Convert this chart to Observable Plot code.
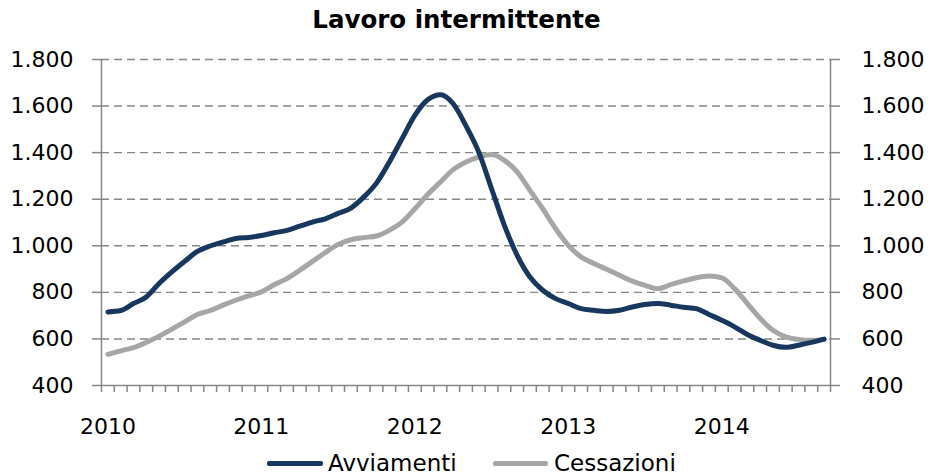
<!DOCTYPE html>
<html>
<head>
<meta charset="utf-8">
<script src="https://cdn.jsdelivr.net/npm/d3@7"></script>
<script src="https://cdn.jsdelivr.net/npm/@observablehq/plot@0.6"></script>
<style>
  body { margin: 0; background: #fff; }
  #wrap { position: relative; width: 931px; height: 475px; overflow: hidden; font-family: "DejaVu Sans", Verdana, sans-serif; color: #000; }
  #title { position: absolute; left: 0; top: 7px; width: 913px; text-align: center; font-size: 24.5px; line-height: 25px; font-weight: bold; }
  #plot { position: absolute; left: 0; top: 40px; }
  .sw { position: absolute; height: 5px; top: 461px; border-radius: 2px; }
  .lt { position: absolute; top: 452px; font-size: 23px; line-height: 22px; white-space: nowrap; }
</style>
</head>
<body>
<div id="wrap">
  <div id="title">Lavoro intermittente</div>
  <div id="plot"></div>
  <div id="legend"></div>
</div>
<script>
const years = ["2010", "2011", "2012", "2013", "2014"];
const seriesNames = ["Avviamenti", "Cessazioni"];
const seriesColors = ["#17375E", "#A6A6A6"];
const yTicks = [400, 600, 800, 1000, 1200, 1400, 1600, 1800];

// monthly values, Jan 2010 .. Sep 2014
const avviamenti = [716,722,752,780,838,888,933,976,999,1016,1031,1036,
  1044,1056,1066,1084,1102,1116,1139,1162,1209,1269,1359,1460,
  1560,1627,1649,1610,1515,1402,1245,1088,959,866,809,773,
  752,730,723,718,723,737,748,752,745,736,730,705,
  680,652,619,594,573,564,573,585,599];
const cessazioni = [534,549,563,585,612,642,673,705,722,745,766,785,
  802,833,859,895,933,971,1006,1026,1035,1042,1066,1102,
  1159,1220,1274,1327,1360,1381,1392,1367,1317,1238,1159,1074,
  1002,952,924,899,873,848,830,816,833,849,863,870,
  862,816,752,688,637,609,598,594,598];

const n = avviamenti.length;
const rows = [
  ...cessazioni.map((v, i) => ({i, v, s: seriesNames[1]})),
  ...avviamenti.map((v, i) => ({i, v, s: seriesNames[0]}))
];
const fmt = d3.formatLocale({decimal: ",", thousands: ".", grouping: [3], currency: ["€", ""]}).format(",");
const axisColor = "#868686";

const chart = Plot.plot({
  width: 931,
  height: 405,
  marginTop: 19,
  marginBottom: 60,
  marginLeft: 101,
  marginRight: 101,
  style: {fontFamily: "'DejaVu Sans', Verdana, sans-serif", fontSize: "22px", color: "#000", background: "white"},
  x: {domain: [-0.5, n - 0.5]},
  y: {domain: [400, 1800]},
  color: {domain: seriesNames, range: seriesColors},
  marks: [
    Plot.ruleY(yTicks.filter(d => d > 400), {stroke: axisColor, strokeDasharray: "8,5", strokeWidth: 1.4}),
    Plot.ruleX([-0.5, n - 0.5], {stroke: axisColor, strokeWidth: 1.5}),
    Plot.ruleY([400], {stroke: axisColor, strokeWidth: 1.5}),
    Plot.axisY({anchor: "left", ticks: yTicks, tickSize: 9, tickPadding: 19, tickFormat: fmt, stroke: axisColor, strokeWidth: 1.5, fill: "#000", label: null}),
    Plot.axisY({anchor: "right", ticks: yTicks, tickSize: 9, tickPadding: 22, tickFormat: fmt, stroke: axisColor, strokeWidth: 1.5, fill: "#000", label: null}),
    Plot.axisX({ticks: d3.range(-0.5, n, 1), tickSize: 7, tickFormat: () => "", stroke: axisColor, strokeWidth: 1.5, label: null}),
    Plot.axisX({ticks: years.map((_, k) => k * 12), tickSize: 0, tickPadding: 33, tickFormat: d => years[d / 12], fill: "#000", label: null}),
    Plot.line(rows, {x: "i", y: "v", z: "s", stroke: "s", strokeWidth: 5, curve: "monotone-x"})
  ]
});
document.getElementById("plot").appendChild(chart);

// legend below the chart
const legend = document.getElementById("legend");
const legendPos = [{sw: 267, swW: 56, tx: 328}, {sw: 493, swW: 55, tx: 554}];
seriesNames.forEach((name, k) => {
  const sw = document.createElement("div");
  sw.className = "sw";
  sw.style.left = legendPos[k].sw + "px";
  sw.style.width = legendPos[k].swW + "px";
  sw.style.background = seriesColors[k];
  legend.appendChild(sw);
  const t = document.createElement("div");
  t.className = "lt";
  t.style.left = legendPos[k].tx + "px";
  t.textContent = name;
  legend.appendChild(t);
});
</script>
</body>
</html>
